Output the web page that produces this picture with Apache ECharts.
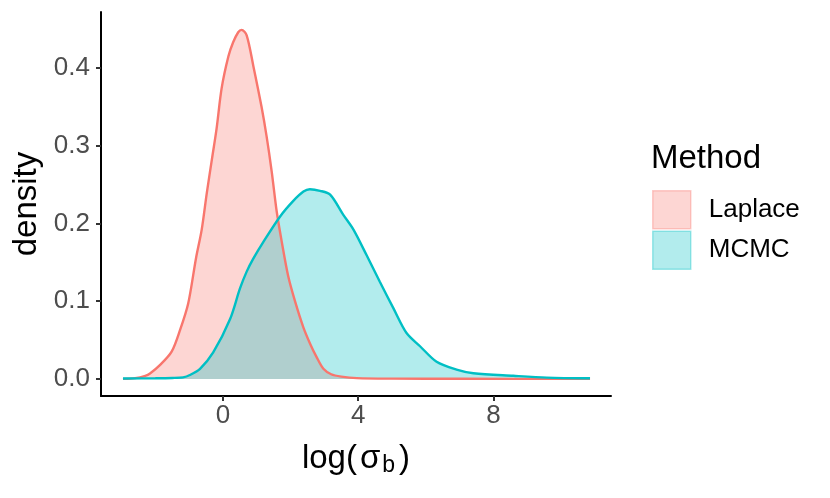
<!DOCTYPE html>
<html>
<head>
<meta charset="utf-8">
<script src="https://cdn.jsdelivr.net/npm/echarts@6/dist/echarts.min.js"></script>
<style>
  html, body { margin: 0; padding: 0; background: #fff; }
  #main { width: 830px; height: 498px; }
</style>
</head>
<body>
<div id="main"></div>
<script>
// density estimates
var laplaceX = [-2.96, -2.6, -2.3, -2.16, -1.86, -1.52, -1.27, -1.03, -0.8, -0.63, -0.48, -0.33, -0.19, -0.04, 0.16, 0.30, 0.45, 0.55, 0.70, 0.90, 1.14, 1.29, 1.44, 1.59, 1.74, 1.93, 2.13, 2.38, 2.58, 2.77, 2.97, 3.2, 3.5, 3.96, 5, 7, 10.86];
var laplaceY = [0.000, 0.001, 0.004, 0.007, 0.018, 0.035, 0.063, 0.097, 0.155, 0.192, 0.239, 0.282, 0.322, 0.374, 0.415, 0.433, 0.446, 0.449, 0.442, 0.402, 0.350, 0.312, 0.267, 0.215, 0.176, 0.132, 0.100, 0.066, 0.045, 0.028, 0.013, 0.006, 0.003, 0.001, 0.0003, 0.0001, 0.0000];

var mcmcX = [-2.96, -2.0, -1.5, -1.18, -0.98, -0.68, -0.29, 0.21, 0.50, 0.70, 0.90, 1.19, 1.69, 2.08, 2.38, 2.57, 2.87, 3.17, 3.56, 3.86, 4.25, 4.64, 5.04, 5.43, 5.83, 6.32, 6.91, 7.41, 8.59, 9.58, 10.86];
var mcmcY = [0.0005, 0.0008, 0.0012, 0.002, 0.005, 0.013, 0.034, 0.077, 0.116, 0.138, 0.155, 0.176, 0.209, 0.229, 0.241, 0.244, 0.242, 0.237, 0.211, 0.192, 0.159, 0.125, 0.091, 0.059, 0.042, 0.022, 0.012, 0.0073, 0.004, 0.0017, 0.0008];

var xTicks = [0, 4, 8];
var yTicks = [0, 0.1, 0.2, 0.3, 0.4];

function pairs(xs, ys) {
  var out = [];
  for (var i = 0; i < xs.length; i++) out.push([xs[i], ys[i]]);
  return out;
}

var font = 'Liberation Sans, Arial, sans-serif';
var myChart = echarts.init(document.getElementById('main'), null, { renderer: 'canvas' });

myChart.setOption({
  animation: false,
  backgroundColor: '#fff',
  textStyle: { fontFamily: font },
  grid: { left: 101, right: 219, top: 12, bottom: 102 },
  title: {
    text: 'Method',
    left: 651, top: 142, padding: 0,
    textStyle: { fontFamily: font, fontSize: 33, fontWeight: 'normal', color: '#000' }
  },
  legend: {
    orient: 'vertical',
    left: 652, top: 190, padding: 0,
    itemWidth: 38, itemHeight: 38, itemGap: 1,
    icon: 'rect',
    textStyle: { fontFamily: font, fontSize: 26, color: '#000', padding: [0, 0, 0, 13] },
    data: [
      { name: 'Laplace', itemStyle: { color: 'rgba(248,118,109,0.3)', borderColor: 'rgba(248,118,109,0.35)', borderWidth: 1.5 } },
      { name: 'MCMC', itemStyle: { color: 'rgba(0,191,196,0.3)', borderColor: 'rgba(0,191,196,0.35)', borderWidth: 1.5 } }
    ]
  },
  xAxis: {
    type: 'value',
    min: -3.61, max: 11.48,
    name: '{m|log(}{g|σ}{s|b}{p|)}',
    nameLocation: 'middle',
    nameGap: 44,
    nameTextStyle: {
      rich: {
        m: { fontFamily: font, fontSize: 33, color: '#000' },
        g: { fontFamily: font, fontSize: 33, color: '#000', padding: [0, 1, 0, 3] },
        s: { fontFamily: font, fontSize: 23, color: '#000', padding: [14, 0, 0, 1] },
        p: { fontFamily: font, fontSize: 33, color: '#000', padding: [0, 0, 0, 4] }
      }
    },
    axisLine: { onZero: false, lineStyle: { color: '#000', width: 2 } },
    axisTick: { customValues: xTicks, length: 5, lineStyle: { color: '#333', width: 2 } },
    axisLabel: { customValues: xTicks, fontSize: 26, color: '#4D4D4D', margin: 7, fontFamily: font },
    splitLine: { show: false }
  },
  yAxis: {
    type: 'value',
    min: -0.022, max: 0.472,
    name: 'density',
    nameLocation: 'middle',
    nameGap: 47,
    nameTextStyle: { fontFamily: font, fontSize: 33, color: '#000' },
    axisLine: { onZero: false, lineStyle: { color: '#000', width: 2 } },
    axisTick: { customValues: yTicks, length: 5, lineStyle: { color: '#333', width: 2 } },
    axisLabel: {
      customValues: yTicks, fontSize: 26, color: '#4D4D4D', margin: 11, fontFamily: font,
      formatter: function (v) { return v.toFixed(1); }
    },
    splitLine: { show: false }
  },
  series: [
    {
      name: 'Laplace', type: 'line', data: pairs(laplaceX, laplaceY),
      showSymbol: false, smooth: 0.3,
      lineStyle: { color: '#F8766D', width: 2.4 },
      itemStyle: { color: '#F8766D' },
      areaStyle: { color: 'rgba(248,118,109,0.3)', opacity: 1 }
    },
    {
      name: 'MCMC', type: 'line', data: pairs(mcmcX, mcmcY),
      showSymbol: false, smooth: 0.3,
      lineStyle: { color: '#00BFC4', width: 2.4 },
      itemStyle: { color: '#00BFC4' },
      areaStyle: { color: 'rgba(0,191,196,0.3)', opacity: 1 }
    }
  ]
});
</script>
</body>
</html>
